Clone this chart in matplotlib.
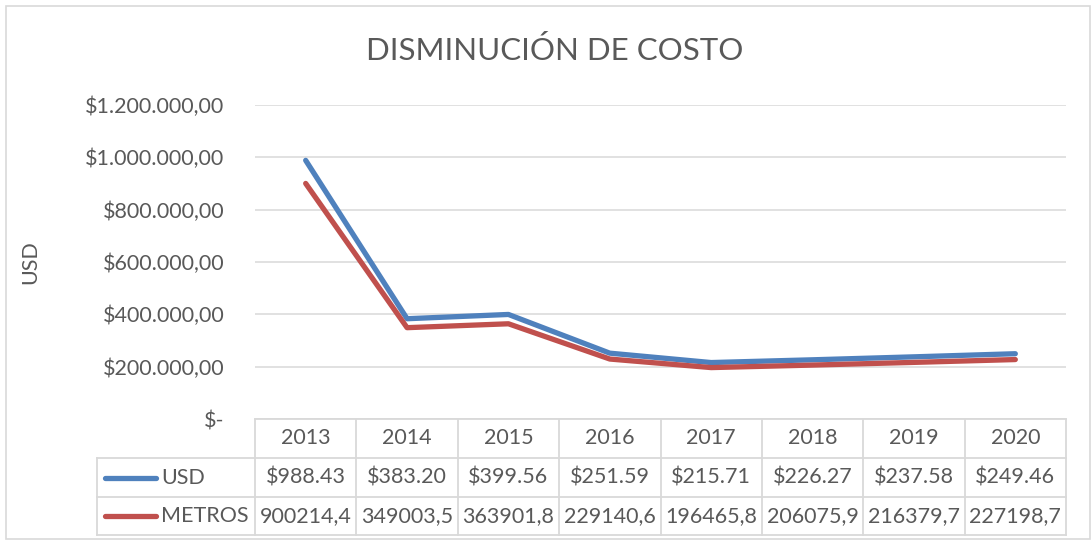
import matplotlib.pyplot as plt
from matplotlib.patches import Rectangle

years = ['2013', '2014', '2015', '2016', '2017', '2018', '2019', '2020']
usd = [988430, 383200, 399560, 251590, 215710, 226270, 237580, 249460]
metros = [900214.4, 349003.5, 363901.8, 229140.6, 196465.8, 206075.9, 216379.7, 227198.7]
series_names = ['USD', 'METROS']
y_ticks = [0, 200000, 400000, 600000, 800000, 1000000, 1200000]

plt.rcParams['font.family'] = ['Lato', 'DejaVu Sans']
txt = '#595959'
grid = '#D9D9D9'
blue = '#4F81BD'
red = '#C0504D'
fs = 15.5

W, H = 1092, 540
fig = plt.figure(figsize=(W / 100, H / 100), dpi=100)

def fx(px):
    return px / W

def fy(py):
    return 1 - py / H

# chart border
fig.patches.append(Rectangle((fx(6), fy(539)), fx(1090) - fx(6), fy(6) - fy(539),
                             transform=fig.transFigure, fill=False, edgecolor=grid, lw=1.2))

# plot area
x0, x1, ytop, ybot = 255, 1066, 105, 419
ax = fig.add_axes([fx(x0), fy(ybot), fx(x1 - x0), fy(ytop) - fy(ybot)])
xs = list(range(len(years)))
ax.plot(xs, usd, color=blue, lw=3.8, solid_capstyle='round', zorder=3)
ax.plot(xs, metros, color=red, lw=3.8, solid_capstyle='round', zorder=3)
ax.set_xlim(-0.5, len(years) - 0.5)
ax.set_ylim(0, 1200000)
ax.set_yticks(y_ticks)

def fmt(v):
    if v == 0:
        return '$-'
    s = f'{v:,.2f}'.replace(',', 'X').replace('.', ',').replace('X', '.')
    return '$' + s

labels = [fmt(v) for v in y_ticks]
ax.set_yticklabels(labels, fontsize=fs, color=txt)
ax.tick_params(axis='y', length=0, pad=22)
ax.set_xticks([])
for sp in ax.spines.values():
    sp.set_visible(False)
ax.grid(axis='y', color=grid, lw=1.1)
ax.set_axisbelow(True)

fig.text(fx(30), fy(262), 'USD', rotation=90, ha='center', va='center', fontsize=fs, color=txt)
fig.text(fx(555), fy(50), 'DISMINUCIÓN DE COSTO', ha='center', va='center', fontsize=22.5, color=txt)

# data table
tl, tr = 97, 1066
rows = [419, 458, 497, 535]
colw = (tr - x0) / len(years)
tcol = '#D9D9D9'

def hline(y, xa, xb):
    fig.add_artist(plt.Line2D([fx(xa), fx(xb)], [fy(y), fy(y)], transform=fig.transFigure,
                              color=tcol, lw=1.3))

def vline(x, ya, yb):
    fig.add_artist(plt.Line2D([fx(x), fx(x)], [fy(ya), fy(yb)], transform=fig.transFigure,
                              color=tcol, lw=1.3))

hline(rows[0], x0, tr)
for y in rows[1:]:
    hline(y, tl, tr)
vline(tl, rows[1], rows[3])
for i in range(len(years) + 1):
    vline(x0 + i * colw, rows[0], rows[3])

usd_txt = [f'${v / 1000:.2f}' for v in usd]
met_txt = [f'{v:.1f}'.replace('.', ',') for v in metros]
for i, yr in enumerate(years):
    cx = x0 + (i + 0.5) * colw
    fig.text(fx(cx), fy((rows[0] + rows[1]) / 2), yr, ha='center', va='center', fontsize=fs, color=txt)
    fig.text(fx(cx), fy((rows[1] + rows[2]) / 2), usd_txt[i], ha='center', va='center', fontsize=fs, color=txt)
    fig.text(fx(cx), fy((rows[2] + rows[3]) / 2), met_txt[i], ha='center', va='center', fontsize=fs, color=txt)

for name, col, r in zip(series_names, [blue, red], [1, 2]):
    yc = (rows[r] + rows[r + 1]) / 2
    fig.add_artist(plt.Line2D([fx(105), fx(156)], [fy(yc), fy(yc)], transform=fig.transFigure,
                              color=col, lw=3.8, solid_capstyle='round'))
    fig.text(fx(161), fy(yc), name, ha='left', va='center', fontsize=fs, color=txt)

fig.savefig('out.png', dpi=100)
